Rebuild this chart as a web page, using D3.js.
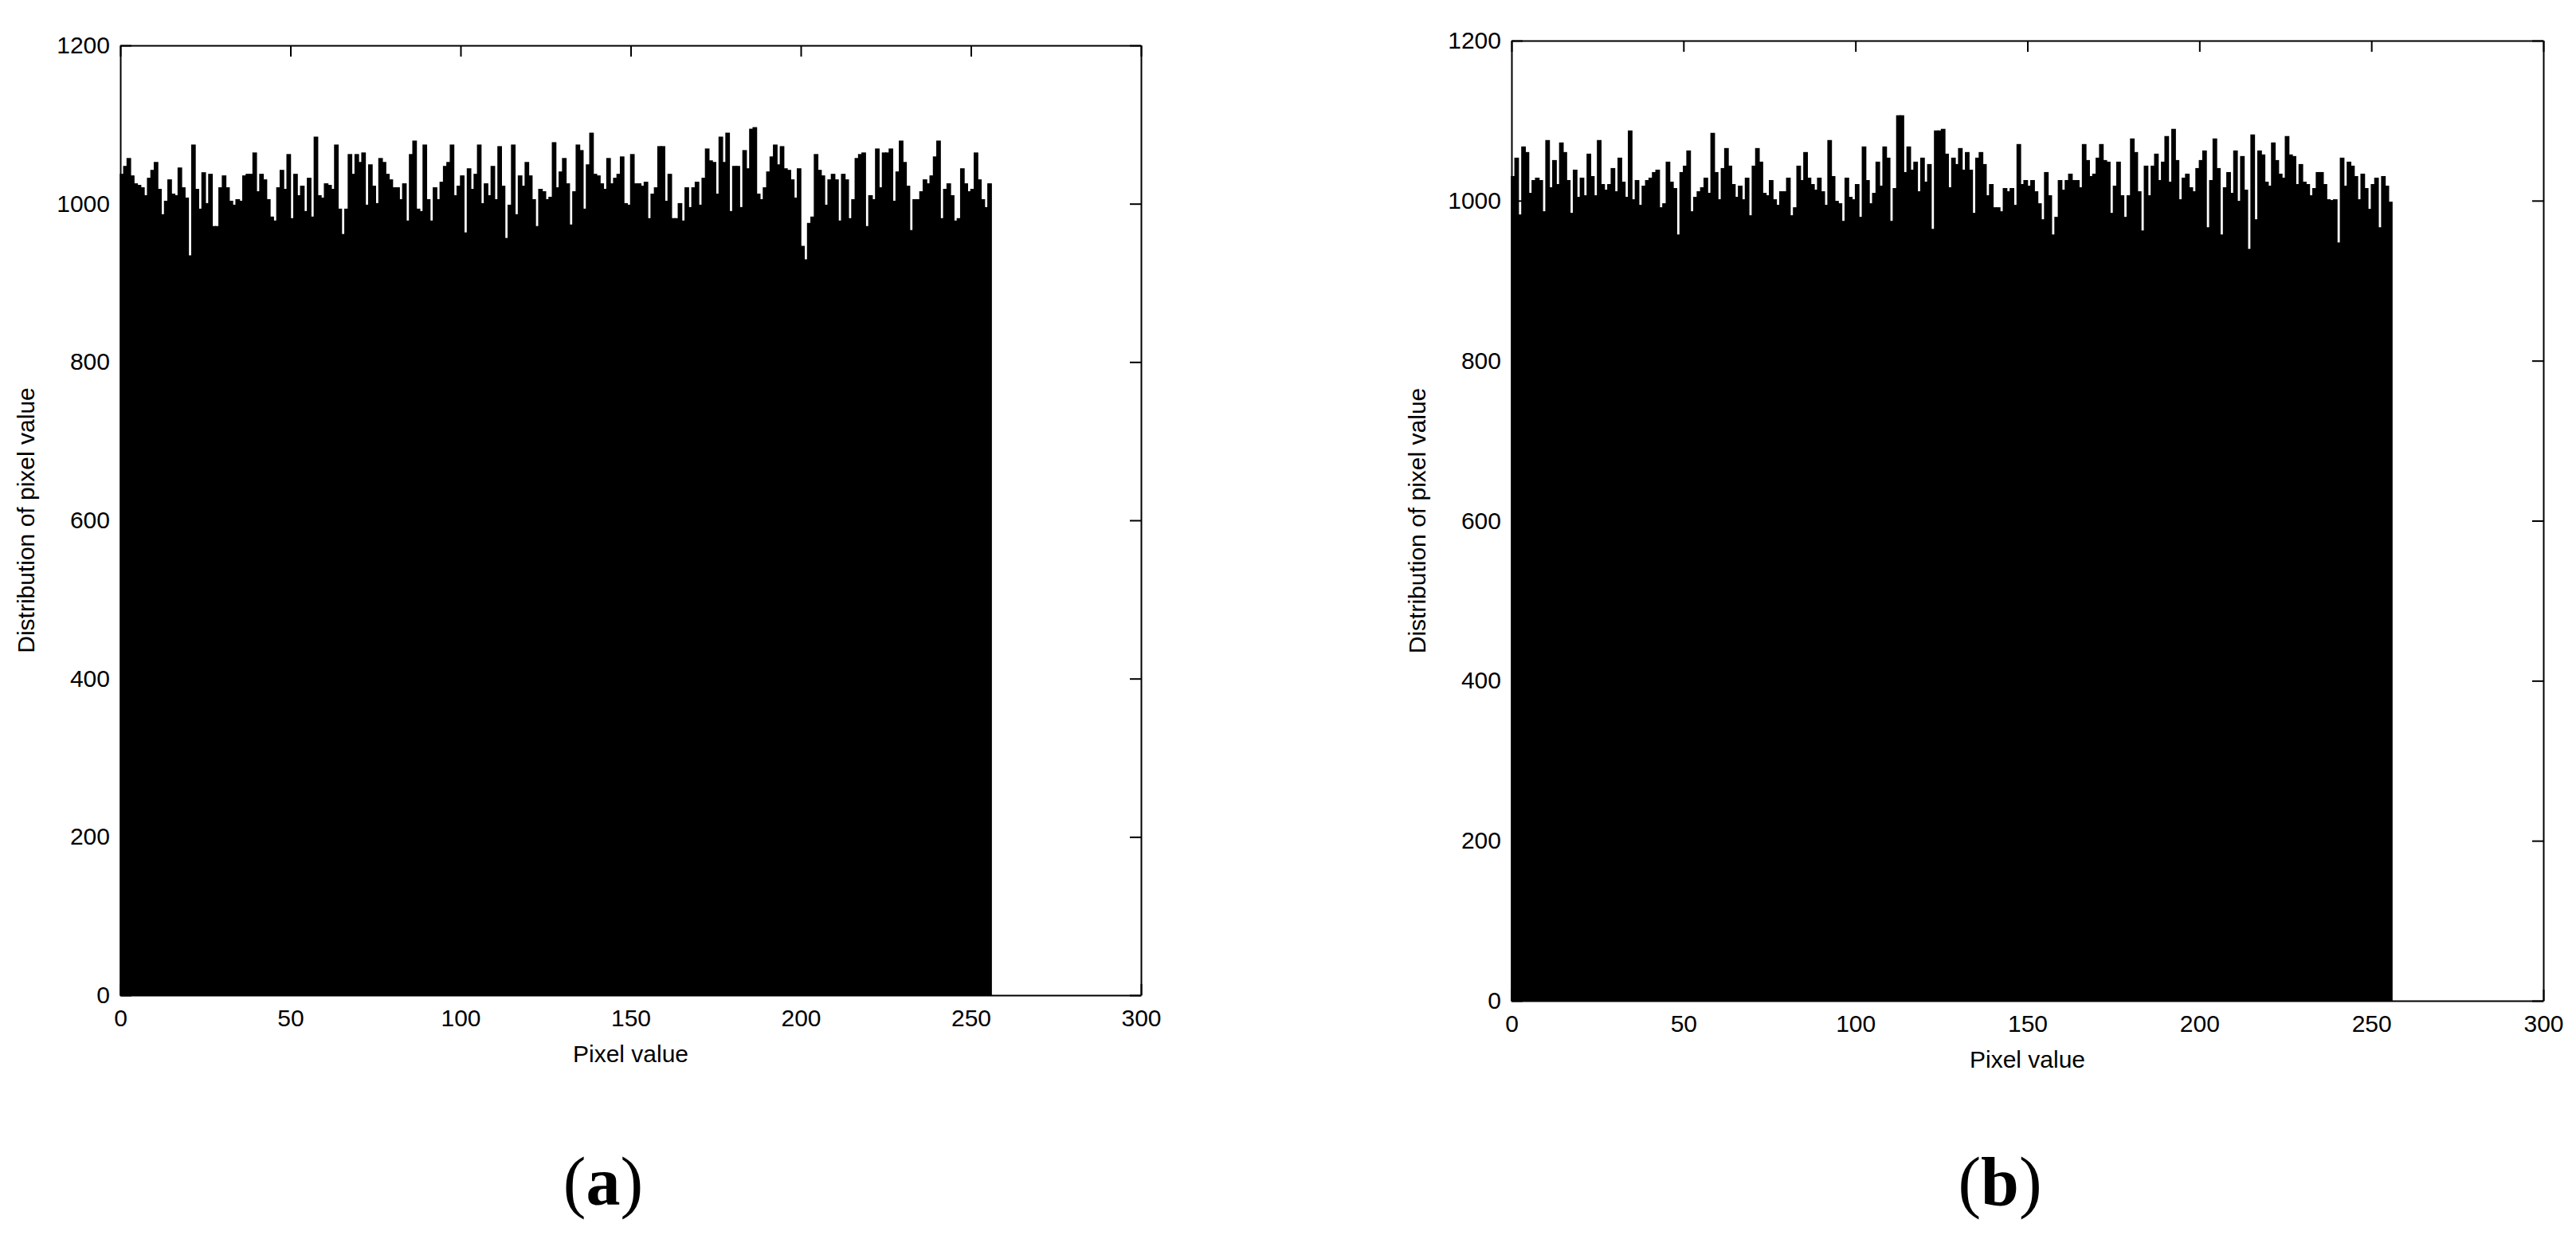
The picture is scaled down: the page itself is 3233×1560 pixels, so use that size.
<!DOCTYPE html>
<html>
<head>
<meta charset="utf-8">
<script src="https://cdn.jsdelivr.net/npm/d3@7"></script>
<style>
  body { margin: 0; background: #fff; }
  svg { display: block; }
</style>
</head>
<body>
<svg id="chart" width="3233" height="1560"></svg>
<script>
// histogram counts, one per grey level 0..255
const countsA = [
  1037, 1047, 1057, 1035, 1025, 1023, 1020, 1010, 1032, 1042, 1052, 1018, 986, 1003, 1030, 1012,
  1010, 1045, 1020, 1007, 934, 1074, 1018, 993, 1039, 1000, 1037, 971, 971, 1020, 1035, 1020,
  1003, 998, 1005, 1003, 1035, 1037, 1037, 1064, 1015, 1037, 1030, 1005, 983, 978, 1020, 1042,
  1018, 1062, 981, 1037, 1010, 1022, 990, 1032, 983, 1084, 1010, 1007, 1025, 1023, 1018, 1074,
  993, 961, 993, 1062, 1037, 1062, 1052, 1064, 998, 1049, 1022, 1000, 1057, 1052, 1037, 1030,
  1020, 1020, 1005, 1025, 978, 1062, 1079, 993, 990, 1074, 1005, 978, 1020, 1005, 1027, 1047,
  1052, 1074, 1010, 1022, 1035, 963, 1044, 1018, 1037, 1074, 1000, 1025, 1010, 1047, 1005, 1072,
  1022, 956, 998, 1074, 986, 1035, 1022, 1052, 1035, 1005, 971, 1018, 1015, 1005, 1008, 1077,
  1020, 1040, 1057, 1025, 973, 1015, 1074, 1067, 993, 1049, 1089, 1037, 1035, 1025, 1018, 1057,
  1025, 1032, 1037, 1059, 1000, 998, 1062, 1025, 1025, 1022, 1027, 981, 1012, 1020, 1072, 1072,
  1003, 1037, 981, 981, 1000, 978, 1020, 995, 1020, 1027, 998, 1032, 1069, 1054, 1052, 1012,
  1084, 1052, 1089, 990, 1047, 1047, 995, 1067, 1044, 1094, 1096, 1012, 1005, 1020, 1040, 1059,
  1074, 1049, 1072, 1044, 1042, 1030, 1007, 1044, 946, 929, 975, 983, 1062, 1042, 1035, 998,
  1030, 1037, 1030, 978, 1037, 1030, 981, 1005, 1057, 1062, 1064, 971, 1010, 1005, 1069, 1020,
  1064, 1064, 1069, 1003, 1040, 1079, 1052, 1022, 966, 1005, 1005, 1015, 1030, 1025, 1035, 1059,
  1079, 981, 1018, 1025, 1010, 978, 981, 1044, 1025, 1015, 1018, 1064, 1030, 1005, 995, 1025
];

const countsB = [
  1030, 1053, 982, 1067, 1060, 1009, 1025, 1028, 1025, 986, 1075, 1016, 1050, 1020, 1072, 1060,
  1025, 984, 1038, 1004, 1028, 1006, 1058, 1030, 1006, 1075, 1020, 1013, 1020, 1040, 1011, 1053,
  1023, 1004, 1087, 1001, 1025, 994, 1018, 1025, 1028, 1035, 1038, 991, 996, 1048, 1023, 1015,
  957, 1035, 1043, 1062, 986, 1004, 1011, 1016, 1028, 1009, 1084, 1035, 1001, 1040, 1065, 1043,
  1020, 1004, 1018, 1001, 1028, 981, 1043, 1065, 1048, 1009, 1006, 1025, 1001, 994, 1011, 1011,
  1028, 981, 991, 1043, 1025, 1060, 1028, 1020, 1013, 1028, 1011, 994, 1075, 1030, 999, 996,
  974, 1028, 1004, 1001, 1020, 979, 1067, 1025, 996, 1009, 1048, 1018, 1067, 1053, 974, 1015,
  1106, 1106, 1035, 1067, 1038, 1048, 1011, 1053, 1023, 1045, 964, 1087, 1087, 1089, 1058, 1016,
  1053, 1045, 1065, 1038, 1060, 1038, 984, 1053, 1060, 1045, 1006, 1020, 991, 991, 986, 1015,
  1011, 1015, 994, 1070, 1020, 1025, 1018, 1025, 1011, 996, 976, 1035, 1006, 957, 979, 1025,
  1013, 1025, 1033, 1025, 1025, 1016, 1070, 1050, 1030, 1033, 1053, 1070, 1050, 1048, 984, 1018,
  1048, 1006, 979, 1006, 1077, 1060, 1011, 962, 1043, 1006, 1043, 1058, 1025, 1048, 1080, 1023,
  1089, 1050, 1001, 1028, 1033, 1016, 1011, 1040, 1050, 1062, 966, 1025, 1077, 1040, 957, 1016,
  1035, 1009, 1062, 999, 1055, 1013, 939, 1082, 976, 1062, 1057, 1023, 1018, 1072, 1050, 1033,
  1028, 1080, 1057, 1055, 1020, 1045, 1023, 1020, 1006, 1015, 1035, 1035, 1020, 1001, 1000, 1001,
  947, 1053, 1018, 1048, 1043, 1030, 1001, 1033, 1015, 989, 1020, 1028, 966, 1030, 1018, 998
];

const greyLevels = d3.range(256);           // one bin per grey level
const xTicks = [0, 50, 100, 150, 200, 250, 300];
const yTicks = [0, 200, 400, 600, 800, 1000, 1200];
const xTitle = "Pixel value";
const yTitle = "Distribution of pixel value";

const svg = d3.select("#chart");
const font = "'Liberation Sans', Arial, sans-serif";
const tick = 14;
const plain = d3.format("d");

const panels = [
  { counts: countsA, tag: "a", left: 151, right: 1432, top: 57, bottom: 1249, tagX: 757 },
  { counts: countsB, tag: "b", left: 1897, right: 3192, top: 51, bottom: 1256, tagX: 2510 }
];

panels.forEach(p => {
  const x = d3.scaleLinear().domain([0, 300]).range([p.left, p.right]);
  const y = d3.scaleLinear().domain([0, 1200]).range([p.bottom, p.top]);
  const g = svg.append("g");

  // bars (thin black edge makes neighbours overlap a little, like the original)
  g.selectAll("rect.bar")
    .data(p.counts)
    .enter()
    .append("rect")
    .attr("class", "bar")
    .attr("x", (d, i) => x(greyLevels[i]))
    .attr("width", (d, i) => x(greyLevels[i] + 1) - x(greyLevels[i]))
    .attr("y", d => y(d))
    .attr("height", d => y(0) - y(d))
    .attr("fill", "#000")
    .attr("stroke", "#000")
    .attr("stroke-width", 1.5);

  // box with inward ticks on all four sides
  const bottomAxis = g.append("g")
    .attr("transform", `translate(0,${p.bottom})`)
    .call(d3.axisBottom(x).tickValues(xTicks).tickFormat(plain)
      .tickSizeInner(-tick).tickSizeOuter(0).tickPadding(18));

  const topAxis = g.append("g")
    .attr("transform", `translate(0,${p.top})`)
    .call(d3.axisTop(x).tickValues(xTicks).tickSizeInner(-tick).tickSizeOuter(0).tickFormat(""));

  const leftAxis = g.append("g")
    .attr("transform", `translate(${p.left},0)`)
    .call(d3.axisLeft(y).tickValues(yTicks).tickFormat(plain)
      .tickSizeInner(-tick).tickSizeOuter(0).tickPadding(13));

  const rightAxis = g.append("g")
    .attr("transform", `translate(${p.right},0)`)
    .call(d3.axisRight(y).tickValues(yTicks).tickSizeInner(-tick).tickSizeOuter(0).tickFormat(""));

  [bottomAxis, topAxis, leftAxis, rightAxis].forEach(a => {
    a.selectAll("path, line").attr("stroke", "#000").attr("stroke-width", 2);
    a.selectAll("text")
      .attr("fill", "#000")
      .style("font-family", font)
      .style("font-size", "30px");
  });

  // axis titles
  g.append("text")
    .attr("x", (p.left + p.right) / 2)
    .attr("y", p.bottom + 84)
    .attr("text-anchor", "middle")
    .style("font-family", font)
    .style("font-size", "30px")
    .text(xTitle);

  g.append("text")
    .attr("transform", `translate(${p.left - 108},${(p.top + p.bottom) / 2}) rotate(-90)`)
    .attr("text-anchor", "middle")
    .style("font-family", font)
    .style("font-size", "30px")
    .text(yTitle);

  // panel tag, e.g. (a)
  const tag = g.append("text")
    .attr("x", p.tagX)
    .attr("y", 1512)
    .attr("text-anchor", "middle")
    .style("font-family", "'Liberation Serif', 'Times New Roman', serif")
    .style("font-size", "86px");
  tag.append("tspan").text("(");
  tag.append("tspan").style("font-weight", "bold").text(p.tag);
  tag.append("tspan").text(")");
});
</script>
</body>
</html>
